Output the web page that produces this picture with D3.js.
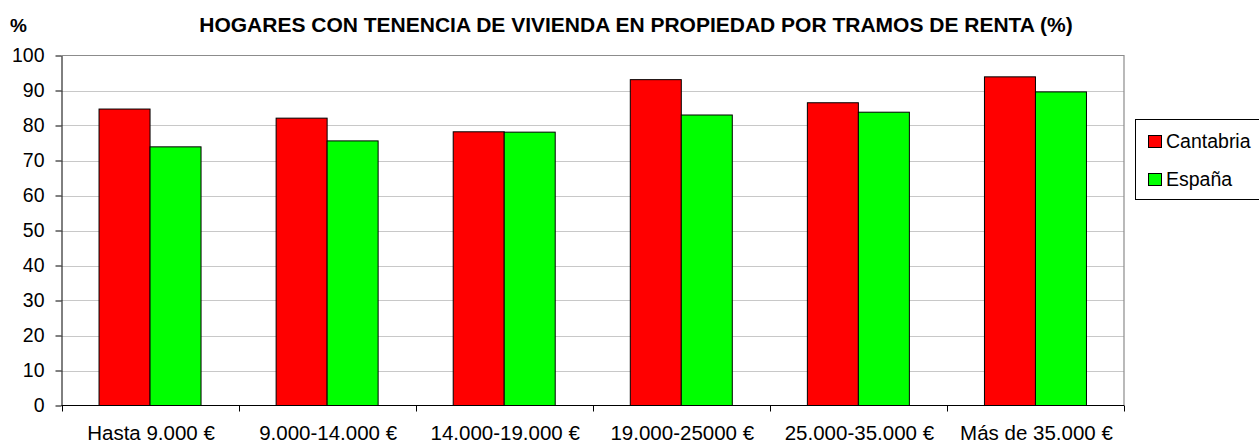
<!DOCTYPE html>
<html><head><meta charset="utf-8">
<script src="https://cdn.jsdelivr.net/npm/d3@7"></script>
<style>
html,body{margin:0;padding:0;background:#fff;}
svg{display:block;font-family:"Liberation Sans",Arial,sans-serif;}
</style></head>
<body>
<svg id="chart" width="1259" height="443"></svg>
<script>
const categories = ["Hasta 9.000 €","9.000-14.000 €","14.000-19.000 €","19.000-25000 €","25.000-35.000 €","Más de 35.000 €"];
const seriesNames = ["Cantabria","España"];
const cantabria = [84.7, 82.1, 78.2, 93.1, 86.5, 93.9];
const espana = [73.9, 75.6, 78.1, 83.0, 83.8, 89.6];
const yTicks = [0,10,20,30,40,50,60,70,80,90,100];
const colors = ["#ff0000","#00ff00"];
const title = "HOGARES CON TENENCIA DE VIVIENDA EN PROPIEDAD POR TRAMOS DE RENTA (%)";

const svg = d3.select("#chart");
const L = 61.5, R = 1124, T = 55.5, B = 405.5;

const x0 = d3.scaleBand().domain(categories).range([L, R]).paddingInner(0).paddingOuter(0);
const bw = x0.bandwidth();
const x1 = d3.scaleBand().domain(seriesNames).range([bw*0.212, bw*0.788]).padding(0);
const y = d3.scaleLinear().domain([0,100]).range([B, T]);

// gridlines
svg.append("g").selectAll("line").data(yTicks.filter(d=>d>0 && d<100)).join("line")
  .attr("x1", L).attr("x2", R)
  .attr("y1", d=>Math.round(y(d))+0.5).attr("y2", d=>Math.round(y(d))+0.5)
  .attr("stroke","#c8c8c8").attr("stroke-width",1);

// plot border top & right
svg.append("path")
  .attr("d", `M${L},${T}H${R}V${B}`)
  .attr("fill","none").attr("stroke","#8c8c8c").attr("stroke-width",1.2);

// bars
const data = categories.map((c,i)=>({cat:c, vals:[cantabria[i], espana[i]]}));
const g = svg.append("g").selectAll("g").data(data).join("g")
  .attr("transform", d=>`translate(${x0(d.cat)},0)`);
g.selectAll("rect").data(d=>d.vals.map((v,j)=>({s:seriesNames[j], v, j}))).join("rect")
  .attr("x", d=>x1(d.s)).attr("width", x1.bandwidth())
  .attr("y", d=>y(d.v)).attr("height", d=>y(0)-y(d.v))
  .attr("fill", d=>colors[d.j]).attr("stroke","#000").attr("stroke-width",1);

// y axis
const yAxis = d3.axisLeft(y).tickValues(yTicks).tickSize(6).tickPadding(11).tickSizeOuter(0);
const ya = svg.append("g").attr("transform",`translate(${L},0)`).call(yAxis);
ya.select(".domain").attr("stroke","#000");
ya.selectAll(".tick line").attr("stroke","#000");
ya.selectAll("text").attr("font-size","19.5px").attr("fill","#000")
  .attr("font-family","'Liberation Sans',Arial,sans-serif");

// x axis with ticks at boundaries
svg.append("line").attr("x1",L).attr("x2",R).attr("y1",B).attr("y2",B).attr("stroke","#000");
const bounds = categories.map(c=>x0(c)).concat([R]);
svg.append("g").selectAll("line").data(bounds).join("line")
  .attr("x1",d=>Math.round(d)+0.5).attr("x2",d=>Math.round(d)+0.5)
  .attr("y1",B).attr("y2",B+6).attr("stroke","#000");
svg.append("g").selectAll("text").data(categories).join("text")
  .attr("x", d=>x0(d)+bw/2+1).attr("y", 440)
  .attr("text-anchor","middle").attr("font-size","20.5px").attr("fill","#000")
  .text(d=>d);

// title
svg.append("text").attr("x",636).attr("y",32).attr("text-anchor","middle")
  .attr("font-size","21px").attr("font-weight","bold").text(title);
svg.append("text").attr("x",10).attr("y",32)
  .attr("font-size","19px").attr("font-weight","bold").text("%");

// legend
const lg = svg.append("g");
lg.append("rect").attr("x",1135.5).attr("y",119.5).attr("width",130).attr("height",80)
  .attr("fill","#fff").attr("stroke","#000").attr("stroke-width",1);
const items = lg.selectAll("g").data(seriesNames).join("g")
  .attr("transform",(d,i)=>`translate(0,${i*38})`);
items.append("rect").attr("x",1148.5).attr("y",135.5).attr("width",13).attr("height",12)
  .attr("fill",(d,i)=>colors[i]).attr("stroke","#000");
items.append("text").attr("x",1166).attr("y",147.5).attr("font-size","19.5px").text(d=>d);
</script>
</body></html>
